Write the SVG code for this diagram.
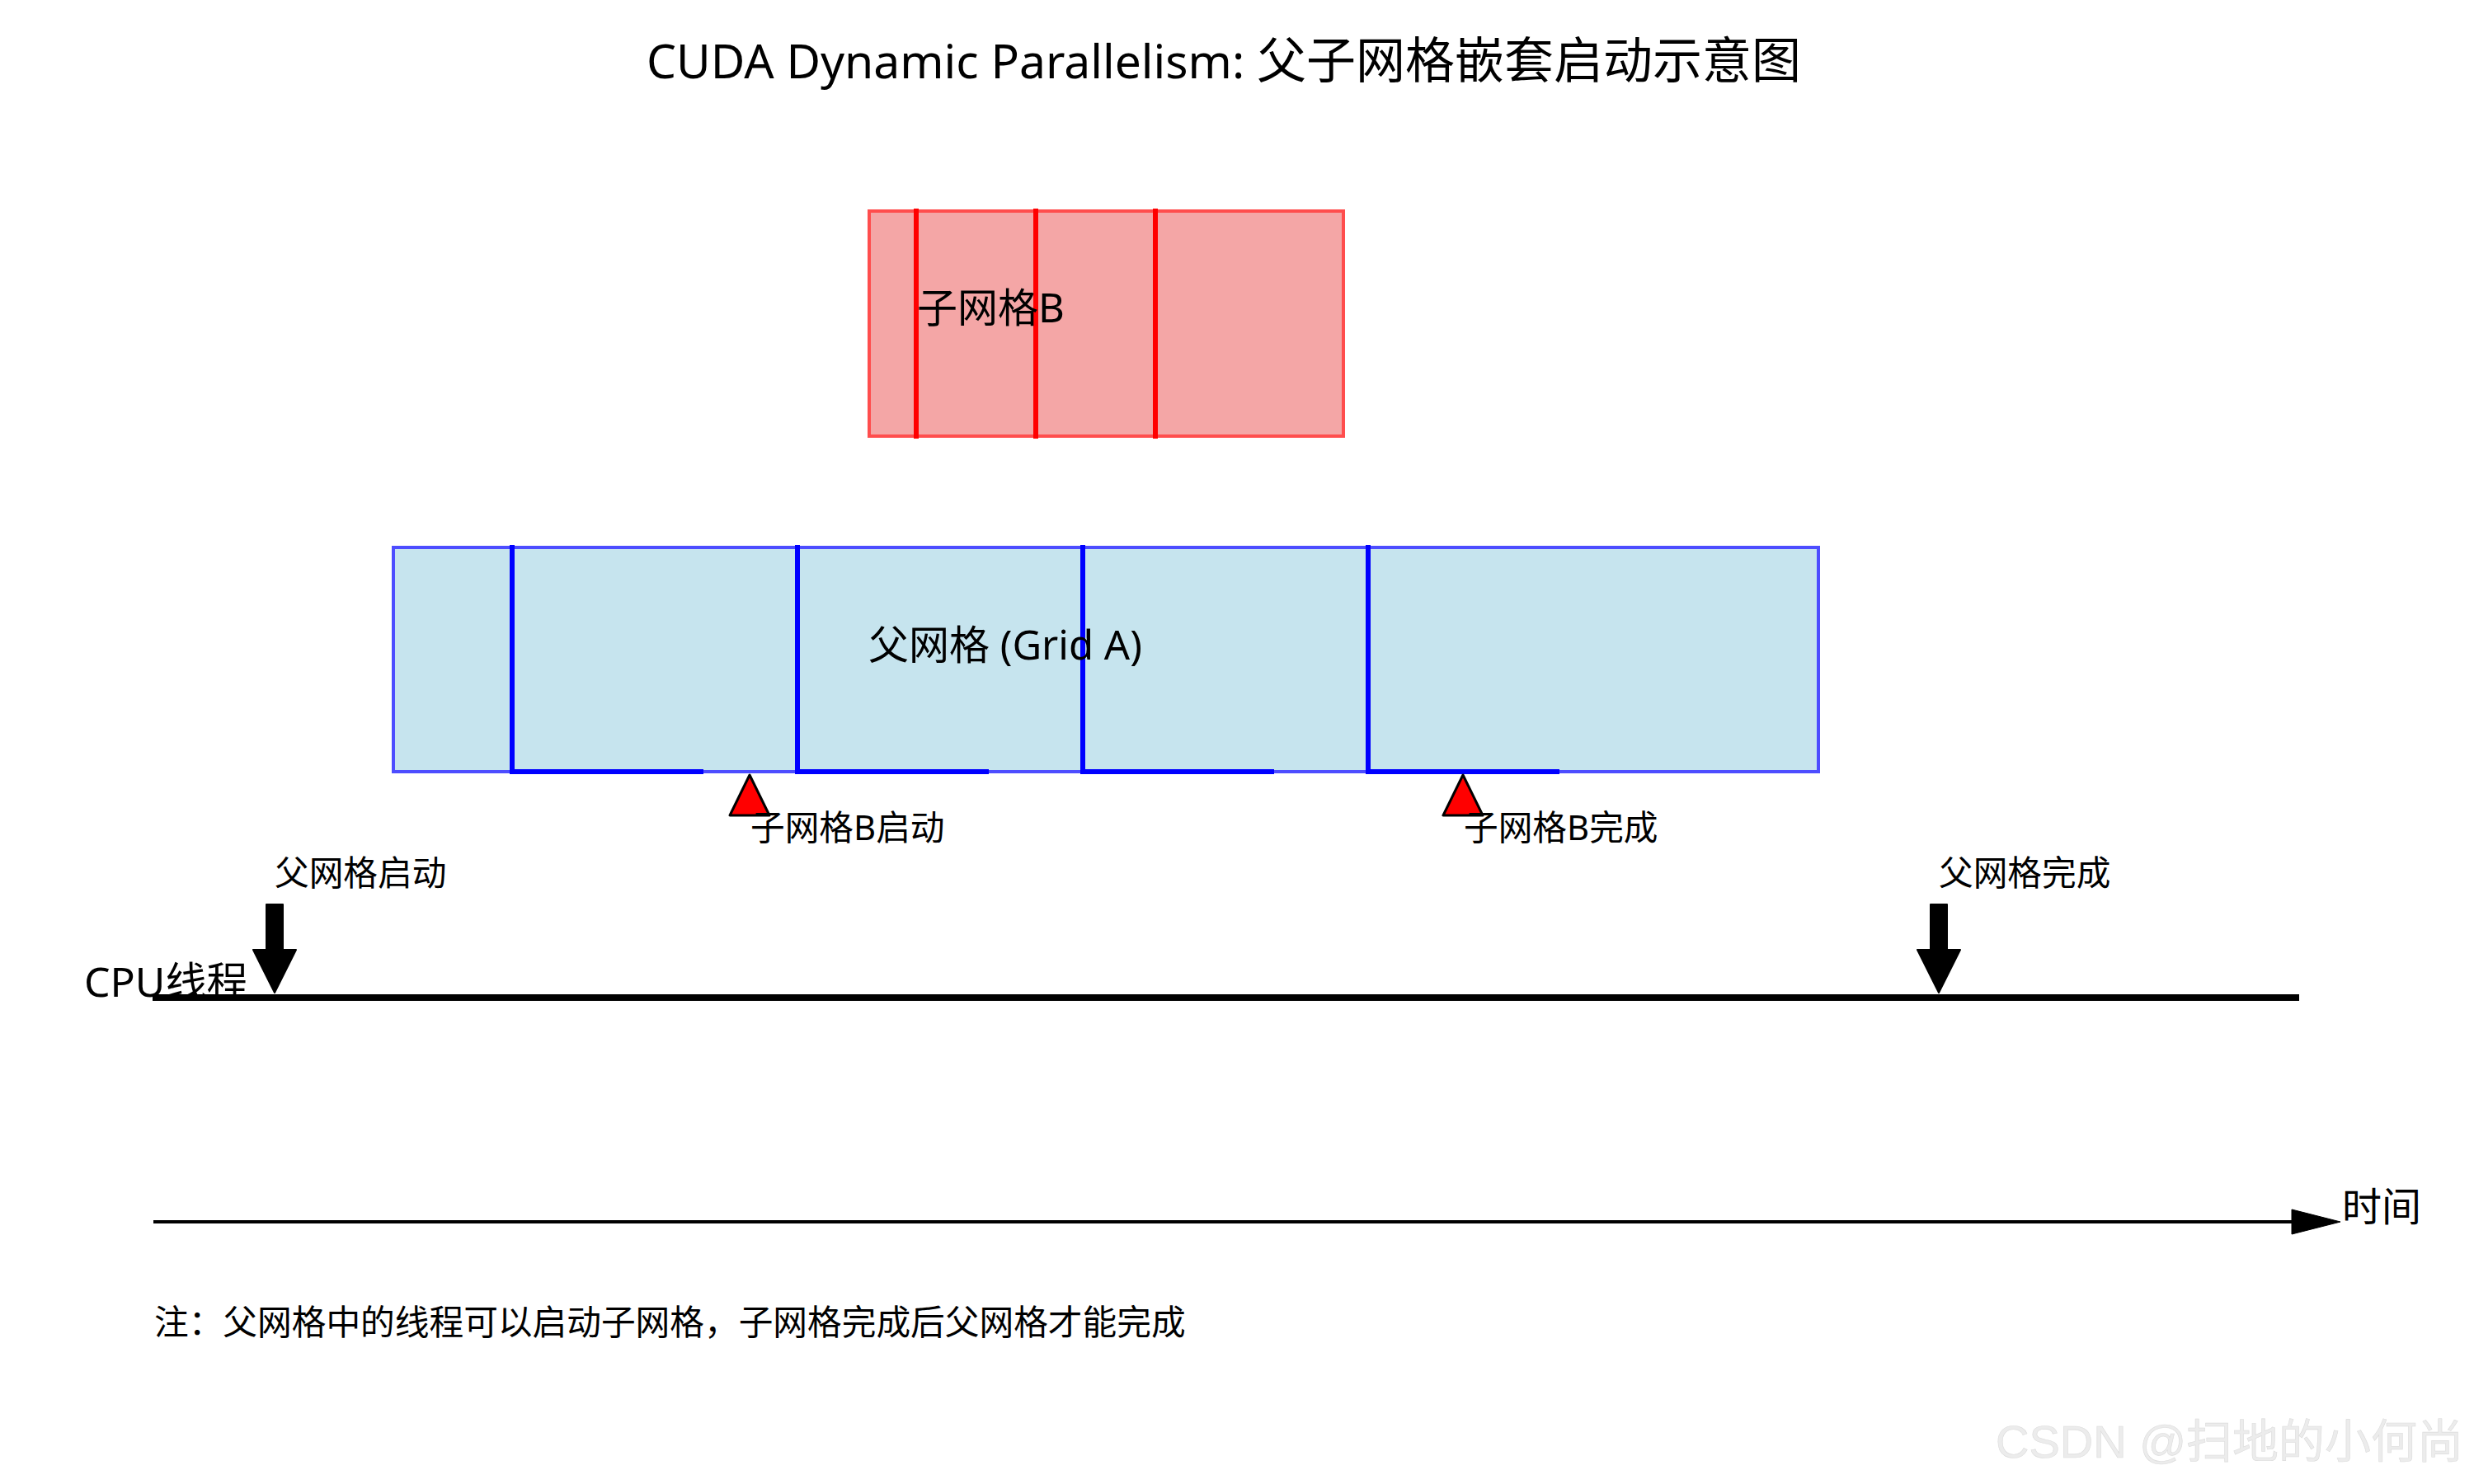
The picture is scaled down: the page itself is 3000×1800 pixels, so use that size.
<svg xmlns="http://www.w3.org/2000/svg" width="3000" height="1800" viewBox="0 0 3000 1800">
<style>
  text { font-family: 'Noto Sans', 'Noto Sans CJK SC', sans-serif; fill: #000; }
  .lbl { font-size: 41.7px; }
  .mid { font-size: 49px; }
  .bluebox { fill: #c6e4ee; stroke: #4d4dff; stroke-width: 4; }
  .redbox { fill: #f4a6a6; stroke: #ff4d4d; stroke-width: 4; }
  .bline { stroke: #0000ff; stroke-width: 6; stroke-linecap: square; fill: none; }
  .rline { stroke: #ff0000; stroke-width: 6; stroke-linecap: square; fill: none; }
  .tri { fill: #ff0000; stroke: #000; stroke-width: 3; stroke-linejoin: round; }
  .darrow { fill: #000; stroke: #000; stroke-width: 2; stroke-linejoin: round; }
</style>
<rect x="0" y="0" width="3000" height="1800" fill="#ffffff"/>

<g id="title">
  <text x="784" y="95" font-size="57">CUDA Dynamic Parallelism: <tspan font-size="60">父子网格嵌套启动示意图</tspan></text>
</g>

<g id="child-grid-b">
  <rect class="redbox" x="1054" y="256" width="575" height="273"/>
  <line class="rline" x1="1111" y1="256" x2="1111" y2="529"/>
  <line class="rline" x1="1256" y1="256" x2="1256" y2="529"/>
  <line class="rline" x1="1401" y1="256" x2="1401" y2="529"/>
  <text class="mid" x="1112" y="391">子网格B</text>
</g>

<g id="parent-grid-a">
  <rect class="bluebox" x="477" y="664" width="1728" height="272"/>
  <line class="bline" x1="621" y1="664" x2="621" y2="936"/>
  <line class="bline" x1="967" y1="664" x2="967" y2="936"/>
  <line class="bline" x1="1313" y1="664" x2="1313" y2="936"/>
  <line class="bline" x1="1659" y1="664" x2="1659" y2="936"/>
  <line class="bline" x1="621" y1="936" x2="850" y2="936"/>
  <line class="bline" x1="967" y1="936" x2="1196" y2="936"/>
  <line class="bline" x1="1313" y1="936" x2="1542" y2="936"/>
  <line class="bline" x1="1659" y1="936" x2="1888" y2="936"/>
  <text class="mid" x="1053" y="800">父网格 (Grid A)</text>
</g>

<g id="child-launch-marker">
  <polygon class="tri" points="909,940 885,989 933,989"/>
  <text class="lbl" x="910" y="1019">子网格B启动</text>
</g>

<g id="child-done-marker">
  <polygon class="tri" points="1774,940 1750,989 1798,989"/>
  <text class="lbl" x="1775" y="1019">子网格B完成</text>
</g>

<g id="parent-launch-label">
  <text class="lbl" x="333" y="1074">父网格启动</text>
</g>

<g id="parent-done-label">
  <text class="lbl" x="2351" y="1074">父网格完成</text>
</g>

<g id="cpu-thread">
  <line x1="185" y1="1210" x2="2788" y2="1210" stroke="#000" stroke-width="8"/>
  <text x="102" y="1209" font-size="50">CPU线程</text>
</g>

<g id="time-axis">
  <line x1="186" y1="1482" x2="2790" y2="1482" stroke="#000" stroke-width="4"/>
  <polygon points="2779,1467 2838,1482 2779,1497" fill="#000" stroke="#000" stroke-width="1"/>
  <text x="2840" y="1481" font-size="48">时间</text>
</g>

<g id="connectors">
  <polygon class="darrow" points="323,1097 343,1097 343,1152 359,1152 333,1204 307,1152 323,1152"/>
  <polygon class="darrow" points="2341,1097 2361,1097 2361,1152 2377,1152 2351,1204 2325,1152 2341,1152"/>
</g>

<g id="note">
  <text class="lbl" x="187" y="1619">注：父网格中的线程可以启动子网格，子网格完成后父网格才能完成</text>
</g>

<g id="watermark">
  <text x="2420" y="1768" font-size="56" style="font-family: 'Liberation Sans', 'Noto Sans CJK SC', sans-serif; fill: #ececec; stroke: #dcdcdc; stroke-width: 0.6;">CSDN @扫地的小何尚</text>
</g>
</svg>
